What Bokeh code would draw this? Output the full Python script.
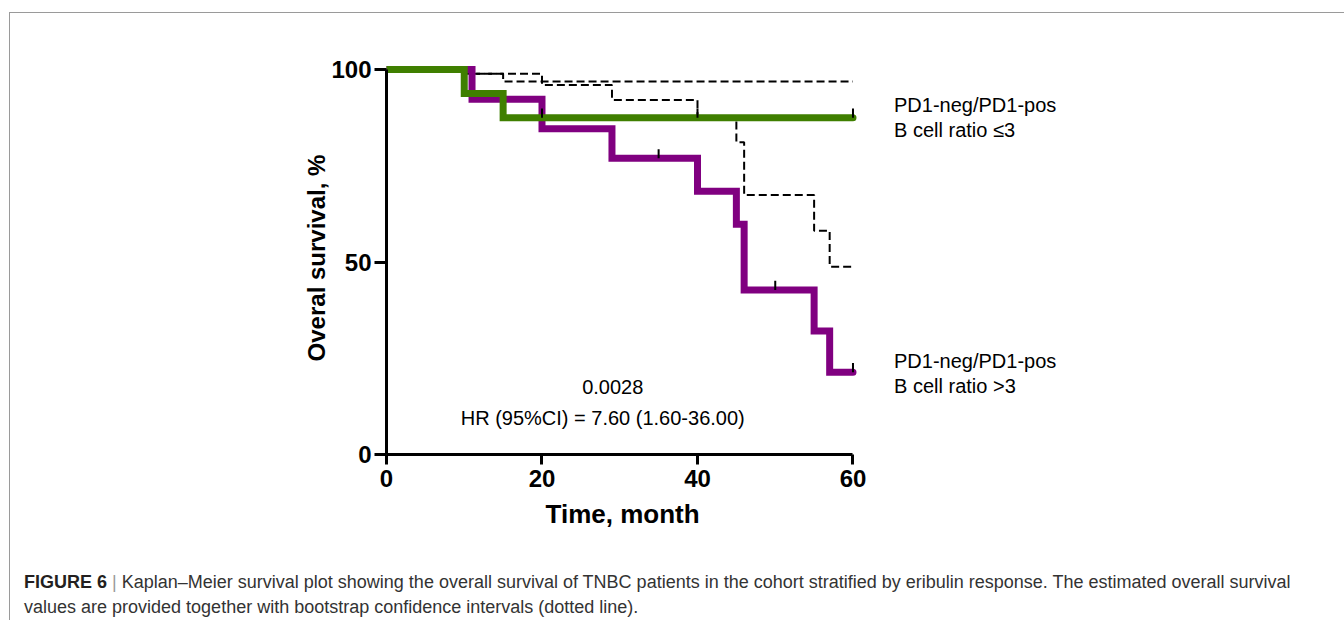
from bokeh.plotting import figure
from bokeh.models import Range1d, Label, LinearAxis, FixedTicker, Title, Div
from bokeh.layouts import column
from bokeh.embed import file_html
from bokeh.resources import INLINE

# ---------------- data ----------------
purple_t = [0, 11, 20, 29, 40, 45, 46, 55, 57, 60]
purple_s = [100, 92.31, 84.62, 76.92, 68.38, 59.83, 42.74, 32.05, 21.37, 21.37]
green_t = [0, 10, 15, 60]
green_s = [100, 93.75, 87.5, 87.5]
green_cens_t = [20, 40, 60]
green_cens_s = [87.5, 87.5, 87.5]
purple_cens_t = [35, 50, 60]
purple_cens_s = [76.92, 42.74, 21.37]
ci_green_t = [10, 15, 60]
ci_green_s = [98.9, 96.9, 96.9]
ci_purple_t = [11, 20, 29, 40, 45, 46, 55, 57, 60]
ci_purple_s = [98.9, 96.0, 92.1, 87.7, 81.1, 67.4, 58.1, 48.8, 48.8]
x_ticks = [0, 20, 40, 60]
y_ticks = [0, 50, 100]
label_green = ["PD1-neg/PD1-pos", "B cell ratio \u22643"]
label_purple = ["PD1-neg/PD1-pos", "B cell ratio >3"]
p_value = "0.0028"
hr_text = "HR (95%CI) = 7.60 (1.60-36.00)"
x_title = "Time, month"
y_title = "Overal survival, %"
caption_head = "FIGURE 6"
caption_l1 = ("Kaplan\u2013Meier survival plot showing the overall survival of TNBC patients in the "
              "cohort stratified by eribulin response. The estimated overall survival")
caption_l2 = "values are provided together with bootstrap confidence intervals (dotted line)."

GREEN = "#3f7f00"
PURPLE = "#800080"
FONT = "Liberation Sans"

# ---------------- geometry ----------------
PXM = 466 / 60.0     # pixels per month
PYP = 384 / 100.0    # pixels per percent
FW, FH = 948, 392
CANVAS_X0, CANVAS_Y0 = 10, 13          # page offset of canvas (margin + border)
X0_PAGE, Y0_PAGE = 386, 453            # page position of data (0, 0)
FIG_H = 547
CAP_H = 60


def dx(px):
    return (px - X0_PAGE) / PXM


def dy(py):
    return (Y0_PAGE - py) / PYP


p = figure(frame_width=FW, frame_height=FH,
           x_range=Range1d(0, FW / PXM), y_range=Range1d(0, FH / PYP),
           min_border_left=X0_PAGE - CANVAS_X0, min_border_right=10,
           min_border_top=48, min_border_bottom=FIG_H - 48 - FH,
           x_axis_type=None, y_axis_type=None,
           output_backend="svg", toolbar_location=None)
p.margin = (12, 0, 0, 9)
p.styles = {"border-top": "1px solid #9a9a9a", "border-left": "1px solid #9a9a9a"}
p.xgrid.visible = False
p.ygrid.visible = False
p.outline_line_color = None
p.background_fill_color = "white"
p.border_fill_color = "white"

xaxis = LinearAxis(ticker=FixedTicker(ticks=x_ticks), bounds=(0, 60))
yaxis = LinearAxis(ticker=FixedTicker(ticks=y_ticks), bounds=(0, 100),
                   axis_label=y_title)
for ax in (xaxis, yaxis):
    ax.axis_line_width = 3
    ax.axis_line_color = "black"
    ax.major_tick_line_width = 3
    ax.major_tick_line_color = "black"
    ax.major_tick_in = 0
    ax.minor_tick_line_color = None
    ax.major_label_text_font = FONT
    ax.major_label_text_font_style = "bold"
    ax.major_label_text_font_size = "24px"
    ax.major_label_text_color = "black"
    ax.axis_label_text_font = FONT
    ax.axis_label_text_font_style = "bold"
    ax.axis_label_text_font_size = "24px"
    ax.axis_label_text_color = "black"
xaxis.major_tick_out = 10
xaxis.major_label_standoff = 5
yaxis.major_tick_out = 12
yaxis.major_label_standoff = 3
yaxis.axis_label_standoff = -2
p.add_layout(xaxis, "below")
p.add_layout(yaxis, "left")

# x-axis title, placed under the axis part of the frame
p.add_layout(Title(text=x_title, align="left", offset=545 - X0_PAGE,
                   text_font=FONT, text_font_size="26px", text_font_style="bold",
                   text_color="black", standoff=15), "below")

# confidence bands (dashed)
p.step(ci_green_t, ci_green_s, mode="after", line_color="black", line_width=2,
       line_dash="8 4")
p.step(ci_purple_t, ci_purple_s, mode="after", line_color="black", line_width=2,
       line_dash="8 4")

# survival curves
p.step(purple_t, purple_s, mode="after", line_color=PURPLE, line_width=7,
       line_join="miter", line_cap="round")
p.step(green_t, green_s, mode="after", line_color=GREEN, line_width=7,
       line_join="miter", line_cap="round")

# censor marks
p.segment(x0=green_cens_t, y0=green_cens_s, x1=green_cens_t,
          y1=[s + 2.4 for s in green_cens_s], line_color="black", line_width=2)
p.segment(x0=purple_cens_t, y0=purple_cens_s, x1=purple_cens_t,
          y1=[s + 2.4 for s in purple_cens_s], line_color="black", line_width=2)


def lab(x, y, text, size="20px", style="normal", align="left", baseline="middle",
        color="black"):
    p.add_layout(Label(x=x, y=y, text=text, text_font=FONT, text_font_size=size,
                       text_font_style=style, text_align=align,
                       text_baseline=baseline, text_color=color))


# curve labels
lab(dx(893), dy(104), label_green[0])
lab(dx(893), dy(129), label_green[1])
lab(dx(893), dy(360), label_purple[0])
lab(dx(893), dy(385), label_purple[1])

# statistics
lab(dx(612), dy(386), p_value, align="center")
lab(dx(602), dy(417), hr_text, align="center")

# caption
caption_html = (
    '<div style="font-family:\'Liberation Sans\';font-size:18px;color:#333333;'
    'line-height:25px;padding:10px 0 0 14px;white-space:nowrap;">'
    f'<b style="color:#231f20;">{caption_head}</b> '
    '<span style="color:#9a9a9a;">|</span> '
    f'{caption_l1}<br>{caption_l2}</div>'
)
cap = Div(text=caption_html, width=1334, height=CAP_H, margin=(0, 0, 0, 9),
          styles={"border-left": "1px solid #9a9a9a"})

layout = column(p, cap, spacing=0)
open("out.html", "w").write(file_html(layout, INLINE))
